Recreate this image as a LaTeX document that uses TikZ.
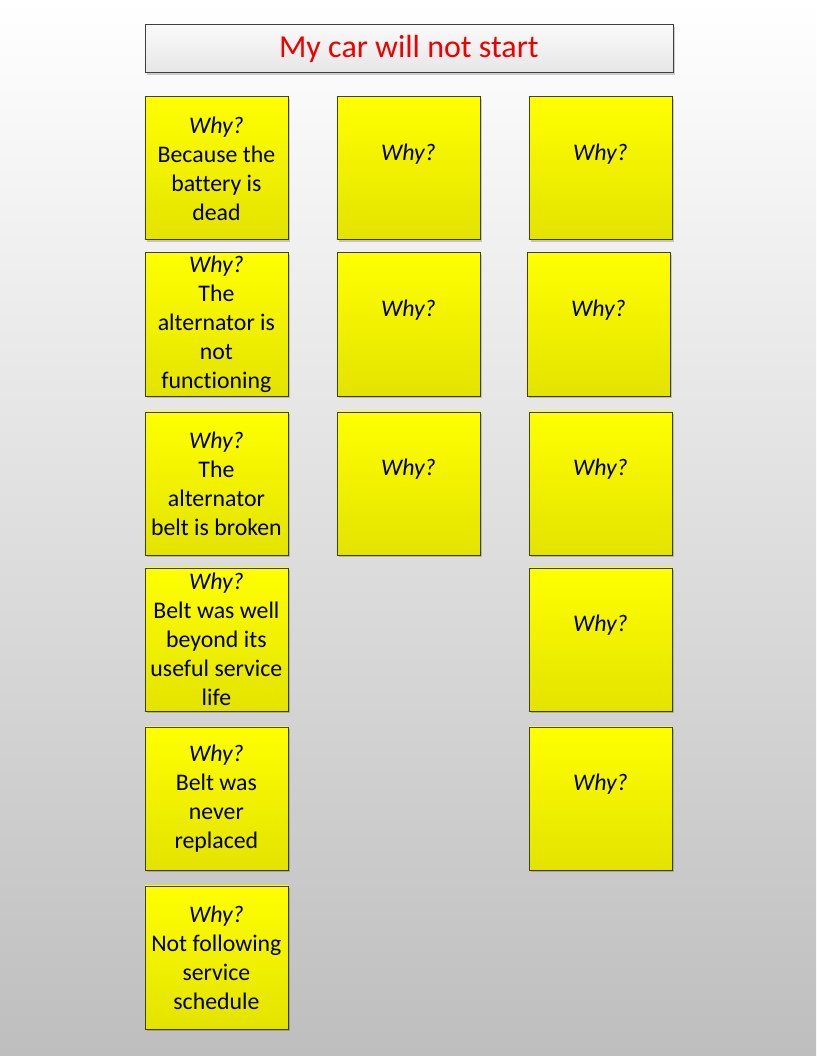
\documentclass[tikz,border=0pt]{standalone}
\usepackage{fontspec}
\setmainfont[Ligatures=CommonOff]{Carlito}
\usetikzlibrary{shadows}
\definecolor{ytop}{HTML}{FFFF00}
\definecolor{ybot}{HTML}{E3E300}
\definecolor{yline}{HTML}{3F3F1F}
\definecolor{bgbot}{HTML}{BEBEBE}
\definecolor{ttop}{HTML}{FAFAFA}
\definecolor{tbot}{HTML}{E6E6E6}
\definecolor{tline}{HTML}{404040}
\definecolor{tred}{HTML}{EE0000}
\tikzset{
  ybox/.style={draw=yline, line width=0.8pt, top color=ytop, bottom color=ybot,
    minimum width=143pt, minimum height=143pt, anchor=north west, inner sep=0pt,
    align=center, font=\fontsize{23.8}{29}\selectfont,
    drop shadow={shadow xshift=2pt, shadow yshift=-2pt, opacity=0.18, fill=black}},
  tbox/.style={draw=tline, line width=0.8pt, top color=ttop, bottom color=tbot,
    minimum width=528pt, minimum height=48pt, anchor=north west, inner sep=0pt,
    font=\fontsize{32}{36}\selectfont, text=tred,
    drop shadow={shadow xshift=2pt, shadow yshift=-2pt, opacity=0.18, fill=black}},
  whyonly/.style={font=\fontsize{23.8}{29}\selectfont\itshape, yshift=14.5pt, inner sep=0pt}
}
\begin{document}
\begin{tikzpicture}[x=1pt,y=-1pt]
\shade[top color=white, bottom color=bgbot] (0,0) rectangle (816,1056);
\useasboundingbox (0,0) rectangle (816,1056);
\node[tbox] (title) at (144.5,24.5) {My car will not start};
% column 1
\node[ybox] (a1) at (144.5,96.5) {\textit{Why?}\\Because the\\battery is\\dead};
\node[ybox] (a2) at (144.5,252.5) {\textit{Why?}\\The\\alternator is\\not\\functioning};
\node[ybox] (a3) at (144.5,411.5) {\textit{Why?}\\The\\alternator\\belt is broken};
\node[ybox] (a4) at (144.5,567.5) {\textit{Why?}\\Belt was well\\beyond its\\useful service\\life};
\node[ybox] (a5) at (144.5,726.5) {\textit{Why?}\\Belt was\\never\\replaced};
\node[ybox] (a6) at (144.5,885.5) {\textit{Why?}\\Not following\\service\\schedule};
% column 2
\node[ybox] (b1) at (336.5,96.5) {};
\node[ybox] (b2) at (336.5,252.5) {};
\node[ybox] (b3) at (336.5,411.5) {};
% column 3
\node[ybox] (c1) at (528.5,96.5) {};
\node[ybox] (c2) at (526.5,252.5) {};
\node[ybox] (c3) at (528.5,411.5) {};
\node[ybox] (c4) at (528.5,567.5) {};
\node[ybox] (c5) at (528.5,726.5) {};
% single Why? labels
\foreach \n in {b1,b2,b3,c1,c2,c3,c4,c5}
  \node[whyonly] (w\n) at (\n.center) {Why?};
\end{tikzpicture}
\end{document}
